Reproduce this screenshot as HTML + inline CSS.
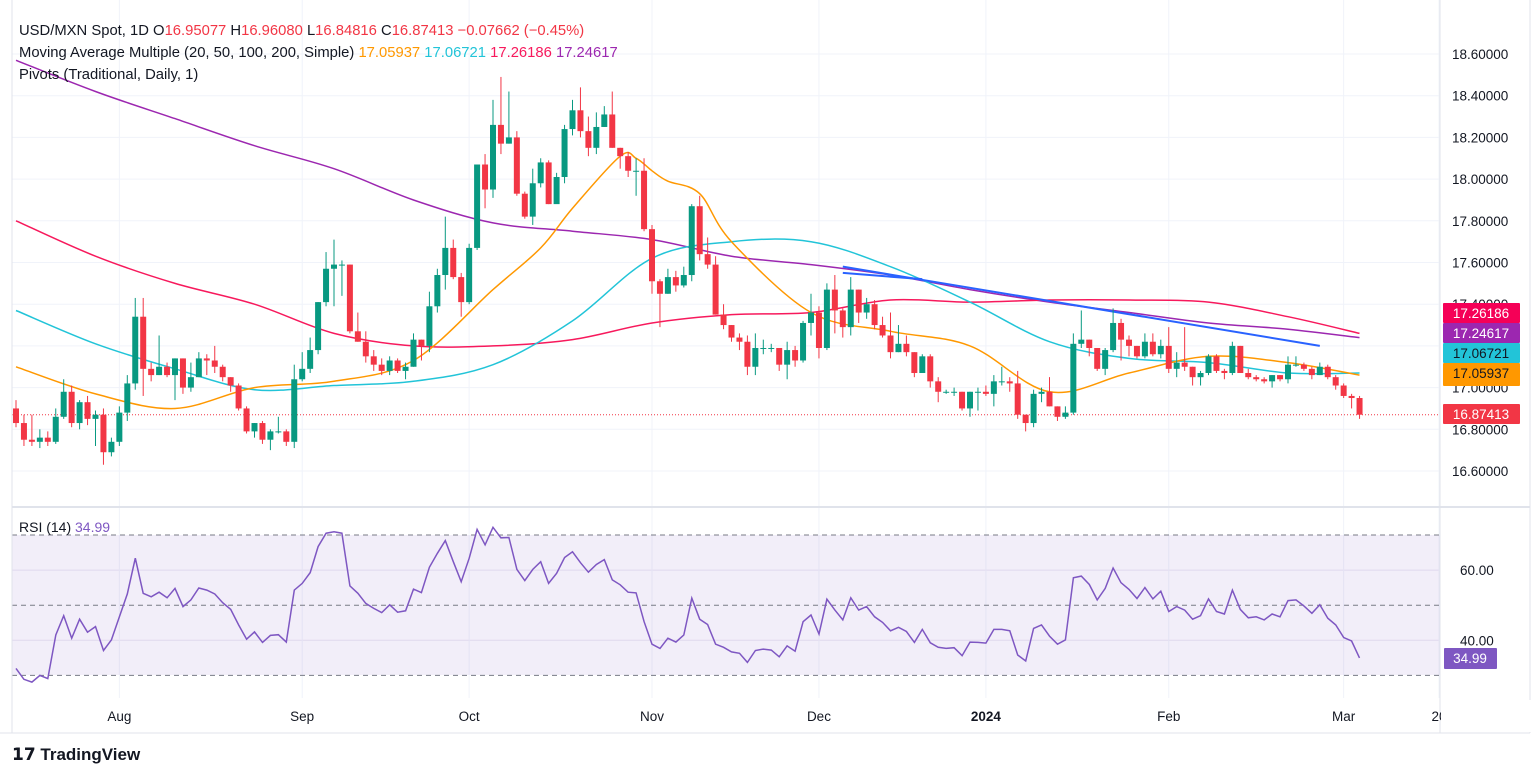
<!DOCTYPE html>
<html><head><meta charset="utf-8"><style>
body{margin:0;background:#fff;width:1536px;height:776px;overflow:hidden;font-family:"Liberation Sans",sans-serif}
svg text{font-family:"Liberation Sans",sans-serif}
</style></head><body>
<svg id="chart" width="1536" height="776" xmlns="http://www.w3.org/2000/svg">
<rect x="0" y="0" width="1536" height="776" fill="#ffffff"/>
<g id="grid"></g>
<rect x="12" y="535" width="1428" height="140" fill="rgba(126,87,194,0.1)"/>
<g id="rsiLevels"></g>
<g id="ma"></g>
<g id="candles"></g>
<g id="rsi"></g>
<g id="axes"></g>
<g font-size="14.8">
<text x="19" y="35" fill="#131722">USD/MXN Spot, 1D <tspan fill="#131722">O</tspan><tspan fill="#F23645">16.95077</tspan> <tspan fill="#131722">H</tspan><tspan fill="#F23645">16.96080</tspan> <tspan fill="#131722">L</tspan><tspan fill="#F23645">16.84816</tspan> <tspan fill="#131722">C</tspan><tspan fill="#F23645">16.87413</tspan> <tspan fill="#F23645">−0.07662 (−0.45%)</tspan></text>
<text x="19" y="57" fill="#131722">Moving Average Multiple (20, 50, 100, 200, Simple) <tspan fill="#FF9800">17.05937</tspan> <tspan fill="#22C4D8">17.06721</tspan> <tspan fill="#F7195C">17.26186</tspan> <tspan fill="#9C27B0">17.24617</tspan></text>
<text x="19" y="79" fill="#131722">Pivots (Traditional, Daily, 1)</text>
<text x="19" y="532" fill="#131722" font-size="14">RSI (14) <tspan fill="#7E57C2">34.99</tspan></text>
</g>
<g>
<text x="12" y="760" font-size="17" font-weight="bold" fill="#131722">𝟭𝟳 TradingView</text>
</g>
</svg>
<script>
const closes=[16.83,16.75,16.74,16.76,16.74,16.86,16.98,16.83,16.93,16.85,16.87,16.69,16.74,16.88,17.02,17.34,17.09,17.06,17.10,17.06,17.14,17.00,17.05,17.14,17.13,17.10,17.05,17.01,16.90,16.79,16.83,16.75,16.79,16.79,16.74,17.04,17.09,17.18,17.41,17.57,17.59,17.59,17.27,17.22,17.15,17.11,17.08,17.13,17.08,17.10,17.23,17.20,17.39,17.54,17.67,17.53,17.41,17.67,18.07,17.95,18.26,18.17,18.20,17.93,17.82,17.98,18.08,17.88,18.01,18.24,18.33,18.23,18.15,18.25,18.31,18.15,18.11,18.04,18.04,17.76,17.51,17.45,17.53,17.49,17.54,17.87,17.64,17.59,17.35,17.30,17.24,17.22,17.10,17.19,17.19,17.19,17.11,17.18,17.13,17.31,17.36,17.19,17.47,17.37,17.29,17.47,17.36,17.40,17.30,17.25,17.17,17.21,17.17,17.07,17.15,17.03,16.98,16.98,16.98,16.90,16.98,16.98,16.97,17.03,17.03,17.02,16.87,16.83,16.97,16.98,16.91,16.86,16.88,17.21,17.23,17.19,17.09,17.18,17.31,17.23,17.20,17.15,17.22,17.16,17.20,17.09,17.12,17.10,17.05,17.07,17.15,17.08,17.07,17.20,17.07,17.05,17.04,17.03,17.06,17.04,17.11,17.11,17.09,17.06,17.10,17.05,17.01,16.96,16.95,16.87];
const highs=[16.94,16.87,16.87,16.80,16.79,16.90,17.04,17.01,16.94,16.96,16.89,16.90,16.76,16.91,17.06,17.43,17.43,17.12,17.25,17.12,17.14,17.14,17.12,17.17,17.16,17.20,17.11,17.05,17.02,16.91,16.83,16.84,16.80,16.86,16.80,17.11,17.17,17.24,17.41,17.65,17.71,17.61,17.59,17.36,17.27,17.18,17.14,17.15,17.14,17.12,17.26,17.23,17.46,17.57,17.82,17.71,17.55,17.69,18.07,18.12,18.38,18.49,18.42,18.23,17.94,18.05,18.10,18.09,18.03,18.26,18.38,18.44,18.30,18.32,18.35,18.42,18.15,18.13,18.10,18.10,17.78,17.52,17.57,17.56,17.58,17.88,17.92,17.72,17.63,17.40,17.30,17.26,17.25,17.26,17.23,17.21,17.19,17.22,17.20,17.32,17.45,17.39,17.50,17.54,17.38,17.53,17.47,17.43,17.42,17.34,17.36,17.30,17.25,17.17,17.16,17.16,17.05,16.99,17.00,16.98,16.98,17.00,17.01,17.06,17.10,17.05,17.08,16.87,16.99,17.00,17.05,16.91,16.91,17.26,17.37,17.23,17.10,17.19,17.38,17.33,17.25,17.20,17.26,17.26,17.23,17.29,17.17,17.29,17.10,17.08,17.16,17.16,17.09,17.22,17.20,17.09,17.06,17.05,17.06,17.06,17.15,17.15,17.12,17.10,17.12,17.11,17.06,17.02,16.97,16.96];
const lows=[16.81,16.72,16.72,16.71,16.72,16.73,16.85,16.81,16.80,16.82,16.72,16.63,16.67,16.72,16.84,16.99,16.96,17.03,17.06,17.05,16.94,16.97,16.98,17.05,17.06,17.07,17.03,16.98,16.89,16.78,16.76,16.73,16.70,16.78,16.72,16.71,17.03,17.07,17.16,17.39,17.39,17.44,17.26,17.22,17.12,17.08,17.06,17.06,17.07,17.04,17.10,17.13,17.17,17.36,17.47,17.52,17.34,17.40,17.66,17.86,17.91,18.12,18.17,17.92,17.81,17.78,17.96,17.88,17.89,17.98,18.21,18.20,18.11,18.12,18.25,18.15,18.05,18.01,17.92,17.75,17.45,17.29,17.45,17.46,17.48,17.51,17.61,17.57,17.35,17.28,17.22,17.18,17.06,17.06,17.16,17.17,17.08,17.04,17.10,17.12,17.25,17.14,17.18,17.26,17.24,17.25,17.31,17.33,17.28,17.24,17.14,17.17,17.15,17.05,17.08,17.00,16.93,16.97,16.96,16.89,16.86,16.89,16.96,16.91,17.01,16.98,16.85,16.79,16.81,16.93,16.91,16.84,16.85,16.87,17.19,17.15,17.08,17.06,17.17,17.13,17.15,17.14,17.14,17.15,17.14,17.07,17.05,17.08,17.01,17.01,17.06,17.07,17.04,17.06,17.07,17.04,17.03,17.02,17.00,17.03,17.02,17.10,17.08,17.04,17.06,17.04,16.99,16.95,16.90,16.85];
const firstOpen=16.90;
const maIdx=[0,10,20,30,40,50,60,70,80,90,100,110,120,130,140,150,160,169];
const ma50=[17.37,17.21,17.09,16.99,17.01,17.03,17.11,17.32,17.62,17.70,17.70,17.58,17.41,17.22,17.14,17.12,17.07,17.07];
const ma100=[17.80,17.63,17.50,17.40,17.26,17.20,17.20,17.23,17.31,17.35,17.36,17.42,17.41,17.42,17.42,17.41,17.34,17.26];
const ma200=[18.57,18.42,18.29,18.16,18.05,17.90,17.79,17.75,17.71,17.63,17.59,17.54,17.47,17.41,17.36,17.31,17.28,17.24];
const ma20Idx=[0,10,20,30,40,50,60,66,70,76,78,80,82,86,90,100,110,120,130,140,150,160,169];
const ma20=[17.10,16.97,16.90,17.00,17.03,17.13,17.47,17.67,17.86,18.11,18.10,18.04,17.99,17.93,17.70,17.36,17.27,17.20,16.98,17.07,17.15,17.12,17.06];
const rsiVals=[32.0,28.9,28.1,30.0,29.1,41.5,47.0,40.6,46.0,42.3,43.9,37.1,40.1,46.7,53.2,63.4,53.4,52.4,53.7,52.1,54.8,49.6,51.5,54.9,54.3,53.2,50.7,48.8,44.4,40.3,42.4,39.4,41.4,41.6,39.5,54.3,56.2,59.3,66.7,70.5,70.9,70.5,55.5,53.4,50.5,49.1,47.9,50.1,48.0,48.4,54.6,53.6,60.8,64.8,68.4,62.4,56.7,63.4,71.6,67.2,72.2,69.2,69.3,60.2,57.0,60.2,62.4,56.2,59.1,63.6,65.2,62.1,59.4,61.6,63.0,57.2,55.8,53.7,53.5,45.3,38.9,37.7,40.6,39.5,41.5,52.0,46.0,44.5,38.9,38.0,36.7,36.3,33.7,37.1,37.5,37.2,35.3,38.4,36.9,45.3,47.2,41.8,51.7,48.6,45.8,52.1,48.6,49.6,46.7,45.1,42.7,43.7,42.5,39.4,43.1,39.3,38.0,37.7,37.9,35.6,39.5,39.4,39.2,43.1,43.1,42.7,35.8,34.1,43.4,44.4,41.2,38.9,40.1,57.8,58.3,55.9,51.5,54.8,60.6,56.4,54.5,51.9,55.0,51.8,54.0,48.2,49.6,48.6,46.0,47.0,51.8,48.2,47.5,54.3,48.8,46.4,46.7,45.8,47.5,46.7,51.3,51.5,49.8,47.7,50.1,46.3,44.4,40.8,39.8,34.99];
const priceTicks=[18.6,18.4,18.2,18.0,17.8,17.6,17.4,17.2,17.0,16.8,16.6];
const rsiTicks=[60,40];
const rsiDashed=[70,50,30];
const monthLabels=["Aug","Sep","Oct","Nov","Dec","2024","Feb","Mar","20"];
const monthIdx=[13,36,57,80,101,122,145,167,179];
const trendStart=[104,17.58]; const trendEnd=[164,17.20];
const trend2Start=[104,17.55]; const trend2End=[114,17.52];

const NS="http://www.w3.org/2000/svg";
const X=i=>16+7.95*i;
const Y=p=>54+(18.6-p)*208.5;
const RY=v=>535+(70-v)*3.51;
function mk(t,a,parent){const e=document.createElementNS(NS,t);for(const k in a)e.setAttribute(k,a[k]);parent.appendChild(e);return e;}
const grid=document.getElementById('grid');
priceTicks.forEach(p=>{const l=mk('line',{x1:12,x2:1440,y1:Y(p),y2:Y(p),stroke:'#f0f3fa'},grid);

});
rsiTicks.forEach(v=>{const l=mk('line',{x1:12,x2:1440,y1:RY(v),y2:RY(v),stroke:'#ebe7f3'},grid);

});
monthIdx.forEach(i=>{const l=mk('line',{x1:X(i),x2:X(i),y1:0,y2:698,stroke:'#f0f3fa'},grid);

});
const rl=document.getElementById('rsiLevels');
rsiDashed.forEach(v=>{const l=mk('line',{x1:12,x2:1440,y1:RY(v),y2:RY(v),stroke:'#787b86','stroke-dasharray':'5,4','stroke-width':1},rl);

});
// MAs (smooth catmull-rom)
const mag=document.getElementById('ma');
function smooth(pts){let d='M'+pts[0][0].toFixed(1)+','+pts[0][1].toFixed(1);
for(let k=0;k<pts.length-1;k++){const p0=pts[Math.max(0,k-1)],p1=pts[k],p2=pts[k+1],p3=pts[Math.min(pts.length-1,k+2)];
const c1=[p1[0]+(p2[0]-p0[0])/6,p1[1]+(p2[1]-p0[1])/6],c2=[p2[0]-(p3[0]-p1[0])/6,p2[1]-(p3[1]-p1[1])/6];
d+=' C'+c1[0].toFixed(1)+','+c1[1].toFixed(1)+' '+c2[0].toFixed(1)+','+c2[1].toFixed(1)+' '+p2[0].toFixed(1)+','+p2[1].toFixed(1);}
return d;}
function line(idx,vals,col,name){const pts=idx.map((i,k)=>[X(i),Y(vals[k])]);
const p=mk('path',{d:smooth(pts),fill:'none',stroke:col,'stroke-width':1.5,'stroke-linejoin':'round'},mag);

}
line(maIdx,ma200,'#9C27B0','ma200-line');
line(maIdx,ma100,'#F7195C','ma100-line');
line(maIdx,ma50,'#22C4D8','ma50-line');
line(ma20Idx,ma20,'#FF9800','ma20-line');
const t1=mk('line',{x1:X(trendStart[0]),y1:Y(trendStart[1]),x2:X(trendEnd[0]),y2:Y(trendEnd[1]),stroke:'#2962FF','stroke-width':2},mag);


const t2=mk('line',{x1:X(trend2Start[0]),y1:Y(trend2Start[1]),x2:X(trend2End[0]),y2:Y(trend2End[1]),stroke:'#2962FF','stroke-width':2},mag);


const pl=mk('line',{x1:12,x2:1440,y1:Y(closes[closes.length-1]),y2:Y(closes[closes.length-1]),stroke:'#F23645','stroke-dasharray':'1,2'},mag);


// candles
const cg=document.getElementById('candles');
closes.forEach((c,i)=>{const o=i?closes[i-1]:firstOpen;const up=c>=o;const col=up?'#089981':'#F23645';
const g=mk('g',{},cg);


mk('line',{x1:X(i),x2:X(i),y1:Y(highs[i]),y2:Y(lows[i]),stroke:col,'stroke-width':1},g);
const top=Math.min(Y(o),Y(c));const h=Math.max(1,Math.abs(Y(o)-Y(c)));
mk('rect',{x:X(i)-3,y:top,width:6,height:h,fill:col},g);});
// RSI
const rg=document.getElementById('rsi');
const rp=mk('path',{d:rsiVals.map((v,i)=>(i?'L':'M')+X(i).toFixed(1)+','+RY(v).toFixed(1)).join(' '),fill:'none',stroke:'#7E57C2','stroke-width':1.5},rg);


// axes
const ax=document.getElementById('axes');
mk('rect',{x:1440,y:0,width:96,height:740,fill:'#fff'},ax);
mk('line',{x1:1440,x2:1440,y1:0,y2:733,stroke:'#e0e3eb'},ax);
mk('line',{x1:12,x2:1530,y1:507,y2:507,stroke:'#e0e3eb',"stroke-width":2},ax);
mk('line',{x1:0,x2:1530,y1:733,y2:733,stroke:'#e0e3eb'},ax);
mk('line',{x1:1530,x2:1530,y1:0,y2:733,stroke:'#e0e3eb'},ax);
mk('line',{x1:12,x2:12,y1:0,y2:733,stroke:'#e0e3eb'},ax);
priceTicks.forEach(p=>{const t=mk('text',{x:1452,y:Y(p)+5,'font-size':13.5,fill:'#131722'},ax);t.textContent=p.toFixed(5);

});
rsiTicks.forEach(v=>{const t=mk('text',{x:1460,y:RY(v)+5,'font-size':13.5,fill:'#131722'},ax);t.textContent=v.toFixed(2);

});
monthLabels.forEach((m,k)=>{const t=mk('text',{x:X(monthIdx[k]),y:721,'font-size':13.5,fill:'#131722','text-anchor':'middle','font-weight':m==='2024'?'bold':'normal'},ax);t.textContent=m;

});
mk('rect',{x:1441,y:700,width:95,height:32,fill:'#fff'},ax);
const badges=[["17.26186",'#F50057','#fff',303],["17.24617",'#9C27B0','#fff',323],["17.06721",'#22C4D8','#131722',343],["17.05937",'#FF9800','#131722',363],["16.87413",'#F23645','#fff',404]];
badges.forEach(b=>{const g=mk('g',{},ax);


mk('rect',{x:1443,y:b[3],width:77,height:b[3]===363?23:20,fill:b[1],rx:1},g);
const t=mk('text',{x:1481,y:b[3]+15,'font-size':13.5,fill:b[2],'text-anchor':'middle'},g);t.textContent=b[0];});
const rb=mk('g',{},ax);


mk('rect',{x:1444,y:648,width:53,height:21,fill:'#7E57C2',rx:1},rb);
const rt=mk('text',{x:1470,y:663,'font-size':13.5,fill:'#fff','text-anchor':'middle'},rb);rt.textContent='34.99';
</script>
</body></html>
